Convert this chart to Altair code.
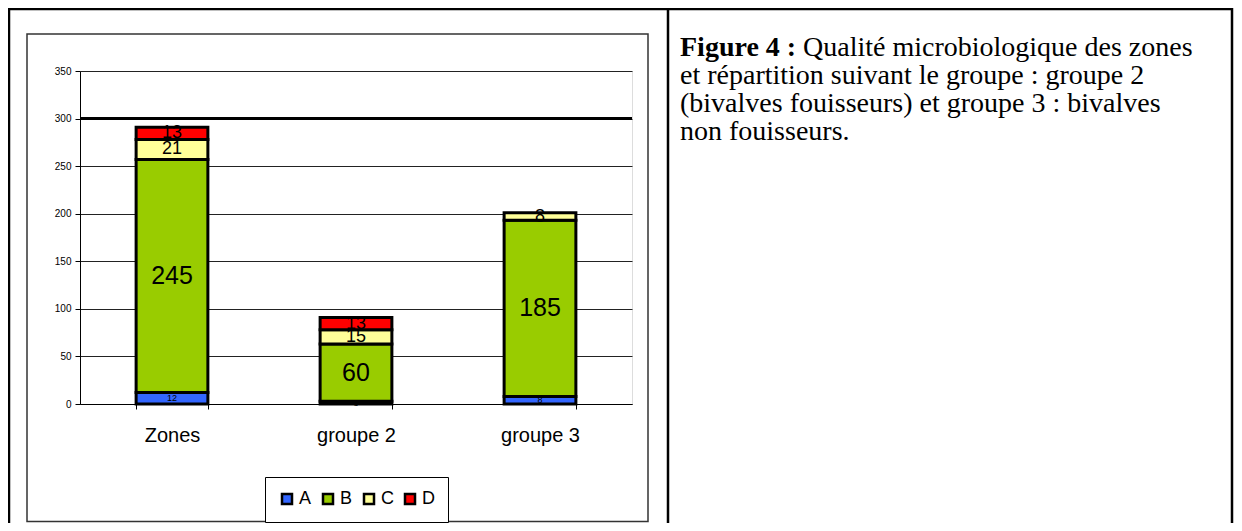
import altair as alt
import pandas as pd

categories = ["Zones", "groupe 2", "groupe 3"]
series = ["A", "B", "C", "D"]
colors = ["#3366FF", "#99CC00", "#FFFF99", "#FF0000"]
values_A = [12, 3, 8]
values_B = [245, 60, 185]
values_C = [21, 15, 8]
values_D = [13, 13, 0]
y_ticks = [0, 50, 100, 150, 200, 250, 300, 350]
ref_line = [300]
caption_bold = "Figure 4 :"
caption_lines = [
    "Qualité microbiologique des zones",
    "et répartition suivant le groupe : groupe 2",
    "(bivalves fouisseurs) et groupe 3 : bivalves",
    "non fouisseurs.",
]

rows = []
for s, vals in zip(series, [values_A, values_B, values_C, values_D]):
    for c, v in zip(categories, vals):
        rows.append({"cat": c, "series": s, "value": v})
df = pd.DataFrame(rows)

W, H = 552, 333
PL, PT = 72, 63
TOTAL_W, TOTAL_H = 1226, 515

xenc = alt.X(
    "cat:N",
    sort=categories,
    scale=alt.Scale(paddingInner=0.61, paddingOuter=0.305),
    axis=alt.Axis(
        title=None, labelAngle=0, labelFont="Arial", labelFontSize=20,
        labelColor="black", labelPadding=16, tickBand="extent", tickSize=5,
        tickColor="black", domainColor="black", grid=False,
    ),
)

base = alt.Chart(df).transform_filter("datum.value > 0").transform_stack(
    stack="value", groupby=["cat"], sort=[alt.SortField("series", order="ascending")],
    as_=["y0", "y1"],
)

bars = base.mark_bar(stroke="black", strokeWidth=3).encode(
    x=xenc,
    y=alt.Y(
        "y0:Q",
        scale=alt.Scale(domain=[0, 350], nice=False),
        axis=alt.Axis(
            title=None, values=y_ticks, labelFont="Arial", labelFontSize=10,
            labelColor="black", tickColor="black", tickSize=5, labelPadding=4,
            domainColor="black", gridColor="#222222", gridWidth=1,
        ),
    ),
    y2="y1:Q",
    color=alt.Color(
        "series:N",
        scale=alt.Scale(domain=series, range=colors),
        legend=alt.Legend(
            title=None, orient="none", legendX=185, legendY=406,
            direction="horizontal", symbolType="square", symbolSize=100,
            symbolStrokeColor="black", symbolStrokeWidth=2.5, symbolOpacity=1,
            labelFont="Arial", labelFontSize=18, labelColor="black",
            labelOffset=3, columnPadding=6, padding=13, strokeColor="black",
            fillColor="white",
        ),
    ),
)

label_base = base.transform_calculate(mid="(datum.y0 + datum.y1) / 2")

def label_layer(flt, fs):
    return label_base.transform_filter(flt).mark_text(
        font="Arial", color="black", baseline="middle", align="center", fontSize=fs
    ).encode(
        x=alt.X("cat:N", sort=categories),
        y=alt.Y("mid:Q"),
        text=alt.Text("value:Q"),
    )

labels_A = label_layer("datum.series == 'A'", 9)
labels_B = label_layer("datum.series == 'B'", 25)
labels_CD = label_layer("datum.series == 'C' || datum.series == 'D'", 18)

ref = alt.Chart(pd.DataFrame({"y": ref_line})).mark_rule(color="black", strokeWidth=3).encode(
    y=alt.Y("y:Q")
)

one = pd.DataFrame({"k": [0]})

def rule(x, y, x2, y2, w, color="black"):
    return alt.Chart(one).mark_rule(color=color, strokeWidth=w).encode(
        x=alt.value(x), y=alt.value(y), x2=alt.value(x2), y2=alt.value(y2)
    )

frame = alt.Chart(one).mark_rect(fillOpacity=0, stroke="#333333", strokeWidth=1.5).encode(
    x=alt.value(-53), x2=alt.value(568), y=alt.value(-37), y2=alt.value(450.5)
)

# light shadow under the legend box
legend_shadow = rule(187, 450, 366, 450, 2)

bottom = TOTAL_H - PT
border = [
    rule(-72, -62, 1152, -62, 2.5),
    rule(-71, -63, -71, bottom, 2.5),
    rule(1152, -63, 1152, bottom, 2.5),
    rule(588, -63, 588, bottom, 2.5),
]

cap_x = 600
cap_y = [-15, 13, 41, 69]
FS = 28
cap_bold = alt.Chart(one).mark_text(
    text=caption_bold, font="Liberation Serif", fontSize=FS, fontWeight="bold",
    align="left", baseline="alphabetic", color="black",
).encode(x=alt.value(cap_x), y=alt.value(cap_y[0]))
cap = []
for i, line in enumerate(caption_lines):
    xx = cap_x + 123 if i == 0 else cap_x
    cap.append(
        alt.Chart(one).mark_text(
            text=line, font="Liberation Serif", fontSize=FS, align="left",
            baseline="alphabetic", color="black",
        ).encode(x=alt.value(xx), y=alt.value(cap_y[i]))
    )

chart = alt.layer(
    frame, bars, labels_A, labels_B, labels_CD, ref, legend_shadow, *border, cap_bold, *cap
).properties(
    width=W, height=H,
    padding={"left": PL, "top": PT, "right": TOTAL_W - PL - W, "bottom": TOTAL_H - PT - H},
    autosize=alt.AutoSizeParams(type="none"),
).configure_view(stroke=None).configure(background="white")

chart.save("out.html", embed_options={"renderer": "svg", "actions": False})
